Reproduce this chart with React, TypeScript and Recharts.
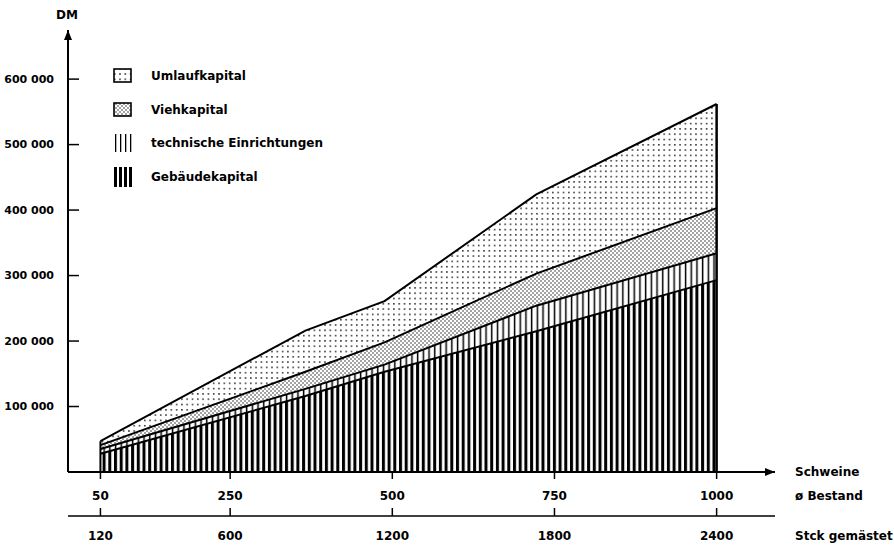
import React from "react";
import { AreaChart, Area, XAxis, YAxis, Legend, ReferenceLine } from "recharts";

// Ø Bestand (Schweine) at the break points of the curves
const bestand = [50, 366, 488, 722, 1000];
// stacked components in DM, bottom to top
const gebaeude = [28000, 116000, 153000, 215000, 293000];
const technik = [7000, 11000, 11000, 39000, 41000];
const vieh = [6000, 26000, 34000, 49000, 69000];
const umlauf = [6000, 63000, 63000, 121000, 159000];

const xTicks = [50, 250, 500, 750, 1000];
const gemaestet = ["120", "600", "1200", "1800", "2400"];
const yTicks = [100000, 200000, 300000, 400000, 500000, 600000];
const legendOrder = ["Umlaufkapital", "Viehkapital", "technische Einrichtungen", "Gebäudekapital"];

const data = bestand.map((b, i) => ({
  bestand: b,
  gebaeude: gebaeude[i],
  technik: technik[i],
  vieh: vieh[i],
  umlauf: umlauf[i],
}));

const total = (i: number) => gebaeude[i] + technik[i] + vieh[i] + umlauf[i];
const last = bestand.length - 1;

const FONT = '"DejaVu Sans", sans-serif';

const fmtDM = (v: number) => {
  const s = String(v);
  return s.slice(0, s.length - 3) + " " + s.slice(-3);
};

const YTick = (props: any) => {
  const { x, y, payload } = props;
  return (
    <g>
      <line x1={x} x2={x + 11} y1={y} y2={y} stroke="#000" strokeWidth={1.5} />
      <text x={x - 14} y={y} dy="0.35em" textAnchor="end" fontSize={11} fontWeight="bold" fontFamily={FONT} fill="#000">
        {fmtDM(payload.value)}
      </text>
    </g>
  );
};

const GemTick = (props: any) => {
  const { x, y, payload } = props;
  const idx = xTicks.indexOf(payload.value);
  return (
    <g>
      <line x1={x} x2={x} y1={y} y2={y - 8} stroke="#000" strokeWidth={1.5} />
      <text x={x} y={y + 24} textAnchor="middle" fontSize={12} fontWeight="bold" fontFamily={FONT} fill="#000">
        {gemaestet[idx]}
      </text>
    </g>
  );
};

const ICONS: Record<string, React.ReactNode> = {
  Umlaufkapital: <rect x={1} y={2} width={17} height={13} fill="url(#pUml)" stroke="#000" strokeWidth={1.6} />,
  Viehkapital: <rect x={1} y={2} width={17} height={13} fill="url(#pVieh)" stroke="#000" strokeWidth={1.6} />,
  "technische Einrichtungen": (
    <g fill="#000">
      {[2, 7, 12, 17].map((x) => (
        <rect key={x} x={x} y={0} width={1.3} height={18} />
      ))}
    </g>
  ),
  "Gebäudekapital": (
    <g fill="#000">
      {[1, 6, 11, 16].map((x) => (
        <rect key={x} x={x} y={-1} width={3} height={20} />
      ))}
    </g>
  ),
};

const LegendBox = (props: any) => {
  const items = [...(props.payload || [])].sort(
    (a: any, b: any) => legendOrder.indexOf(a.value) - legendOrder.indexOf(b.value)
  );
  return (
    <div style={{ fontFamily: FONT, fontWeight: "bold", fontSize: 12, color: "#000" }}>
      {items.map((it: any) => (
        <div key={it.value} style={{ display: "flex", alignItems: "center", height: 33.7 }}>
          <svg width={20} height={18} style={{ overflow: "visible" }}>
            {ICONS[it.value]}
          </svg>
          <span style={{ marginLeft: 18 }}>{it.value}</span>
        </div>
      ))}
    </div>
  );
};

const label = (top: number, text: string) => (
  <div
    style={{
      position: "absolute",
      left: 795,
      top: top - 7,
      lineHeight: "14px",
      fontFamily: FONT,
      fontWeight: "bold",
      fontSize: 12,
      color: "#000",
      whiteSpace: "nowrap",
    }}
  >
    {text}
  </div>
);

export default function App() {
  return (
    <div style={{ position: "absolute", left: 0, top: 0, width: 894, height: 556, background: "#fff" }}>
      <AreaChart width={894} height={556} data={data} margin={{ top: 30, right: 119, left: 0, bottom: 0 }}>
        <defs>
          <pattern id="pGeb" width={5.7} height={10} patternUnits="userSpaceOnUse">
            <rect x={0} y={0} width={3} height={10} fill="#000" />
          </pattern>
          <pattern id="pTech" width={5.7} height={10} patternUnits="userSpaceOnUse">
            <rect x={0.8} y={0} width={1.5} height={10} fill="#000" />
          </pattern>
          <pattern id="pVieh" width={4} height={4} patternUnits="userSpaceOnUse">
            <circle cx={1} cy={1} r={0.7} fill="#000" />
            <circle cx={3} cy={3} r={0.7} fill="#000" />
          </pattern>
          <pattern id="pUml" width={5.3} height={5.3} patternUnits="userSpaceOnUse">
            <rect x={1} y={1} width={1.4} height={1.4} fill="#000" />
          </pattern>
          <marker id="arrow" viewBox="0 0 10 8" refX={10} refY={4} markerWidth={10} markerHeight={8} markerUnits="userSpaceOnUse" orient="auto-start-reverse">
            <path d="M0,0 L10,4 L0,8 z" fill="#000" />
          </marker>
        </defs>
        <XAxis
          dataKey="bestand"
          type="number"
          domain={[0, 1090]}
          ticks={xTicks}
          height={44}
          axisLine={{ stroke: "#000", strokeWidth: 2, markerEnd: "url(#arrow)" }}
          tickLine={{ stroke: "#000", strokeWidth: 1.5 }}
          tickSize={7}
          tickMargin={12}
          tick={{ fontSize: 12, fontWeight: "bold", fontFamily: FONT, fill: "#000" }}
        />
        <XAxis
          xAxisId="gem"
          dataKey="bestand"
          type="number"
          domain={[0, 1090]}
          ticks={xTicks}
          height={40}
          axisLine={{ stroke: "#000", strokeWidth: 1.5 }}
          tickLine={false}
          tickSize={0}
          tickMargin={0}
          tick={GemTick}
        />
        <YAxis
          type="number"
          domain={[0, 675000]}
          ticks={yTicks}
          width={68}
          axisLine={{ stroke: "#000", strokeWidth: 2, markerStart: "url(#arrow)" }}
          tickLine={false}
          tickSize={0}
          tickMargin={0}
          tick={YTick}
        />
        <Legend
          layout="horizontal"
          verticalAlign="middle"
          align="center"
          wrapperStyle={{ left: 113, top: 59, width: 260 }}
          content={LegendBox}
        />
        <Area type="linear" dataKey="gebaeude" name="Gebäudekapital" stackId="k" stroke="#000" strokeWidth={2} fill="url(#pGeb)" fillOpacity={1} dot={false} activeDot={false} isAnimationActive={false} />
        <Area type="linear" dataKey="technik" name="technische Einrichtungen" stackId="k" stroke="#000" strokeWidth={2} fill="url(#pTech)" fillOpacity={1} dot={false} activeDot={false} isAnimationActive={false} />
        <Area type="linear" dataKey="vieh" name="Viehkapital" stackId="k" stroke="#000" strokeWidth={2} fill="url(#pVieh)" fillOpacity={1} dot={false} activeDot={false} isAnimationActive={false} />
        <Area type="linear" dataKey="umlauf" name="Umlaufkapital" stackId="k" stroke="#000" strokeWidth={2} fill="url(#pUml)" fillOpacity={1} dot={false} activeDot={false} isAnimationActive={false} />
        <ReferenceLine segment={[{ x: bestand[0], y: 0 }, { x: bestand[0], y: total(0) }]} stroke="#000" strokeWidth={2} />
        <ReferenceLine segment={[{ x: bestand[last], y: 0 }, { x: bestand[last], y: total(last) }]} stroke="#000" strokeWidth={2.5} />
      </AreaChart>
      <div
        style={{
          position: "absolute",
          left: 56,
          top: 8,
          lineHeight: "14px",
          fontFamily: FONT,
          fontWeight: "bold",
          fontSize: 12,
          color: "#000",
        }}
      >
        DM
      </div>
      {label(472, "Schweine")}
      {label(496, "ø Bestand")}
      {label(536, "Stck gemästet")}
    </div>
  );
}
